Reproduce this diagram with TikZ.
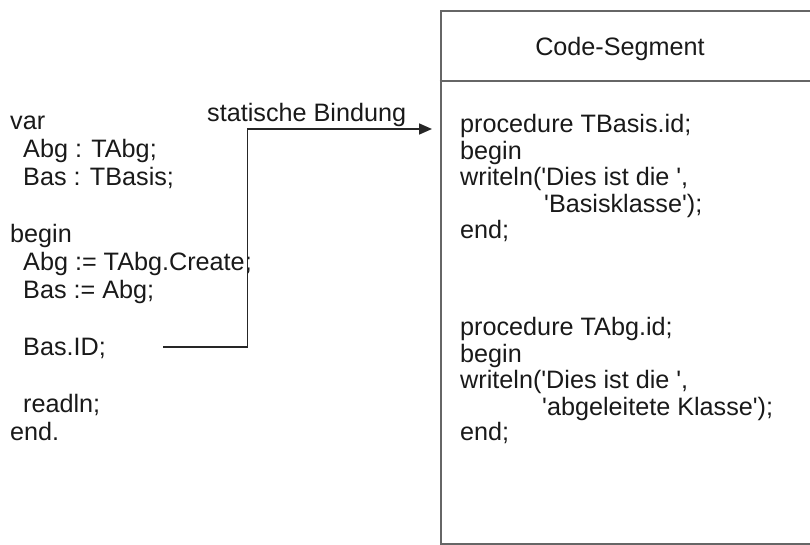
\documentclass[tikz,border=0pt]{standalone}
\usepackage{fontspec}
\newfontfamily\cf{Liberation Sans}
\usetikzlibrary{arrows.meta}
\begin{document}
\begin{tikzpicture}[x=1pt,y=-1pt,
  code/.style={anchor=base west, inner sep=0pt, font=\cf\fontsize{25.2}{28}\selectfont, text=black!90},
  frame/.style={draw=black!60, line width=2pt},
  link/.style={draw=black!85, line width=1.6pt, -{Triangle[length=13pt,width=11pt]}}]
\useasboundingbox (0,0) rectangle (810,544);
\clip (0,0) rectangle (810,544);

% code segment frame, running past the right edge
\node[frame, rectangle, anchor=north west, minimum width=380pt, minimum height=533.5pt, inner sep=0pt] (seg) at (439.5,9.5) {};
\coordinate (divy) at (0,81);
\draw[frame] (seg.west |- divy) -- (seg.east |- divy);
\node[code, anchor=base] (segtitle) at (620,55) {Code-Segment};

% main program
\node[code] (l1) at (10,129) {var};
\node[code] (l2) at (23,157) {Abg : TAbg;};
\node[code] (l3) at (23,185) {Bas : TBasis;};
\node[code] (l4) at (10,242) {begin};
\node[code] (l5) at (23,270) {Abg := TAbg.Create;};
\node[code] (l6) at (23,298) {Bas := Abg;};
\node[code] (bas) at (23,355) {Bas.ID;};
\node[code] (l8) at (23,412) {readln;};
\node[code] (l9) at (10,440) {end.};

% procedures in the code segment
\node[code] (p1) at (460,132) {procedure TBasis.id;};
\node[code] (p2) at (460,159) {begin};
\node[code] (p3) at (460,185) {writeln('Dies ist die ',};
\node[code] (p4) at (544,212) {'Basisklasse');};
\node[code] (p5) at (460,238) {end;};

\node[code] (q1) at (460,335) {procedure TAbg.id;};
\node[code] (q2) at (460,362) {begin};
\node[code] (q3) at (460,388) {writeln('Dies ist die ',};
\node[code] (q4) at (542,415) {'abgeleitete Klasse');};
\node[code] (q5) at (460,440) {end;};

% static binding of the call
\coordinate (callsite) at (163,347);
\coordinate (tgt) at (432,129);
\draw[link] (callsite) -- ++(84.5,0) |- (tgt);
\node[code] (bindlabel) at (207,121.5) {statische Bindung};
\end{tikzpicture}
\end{document}
